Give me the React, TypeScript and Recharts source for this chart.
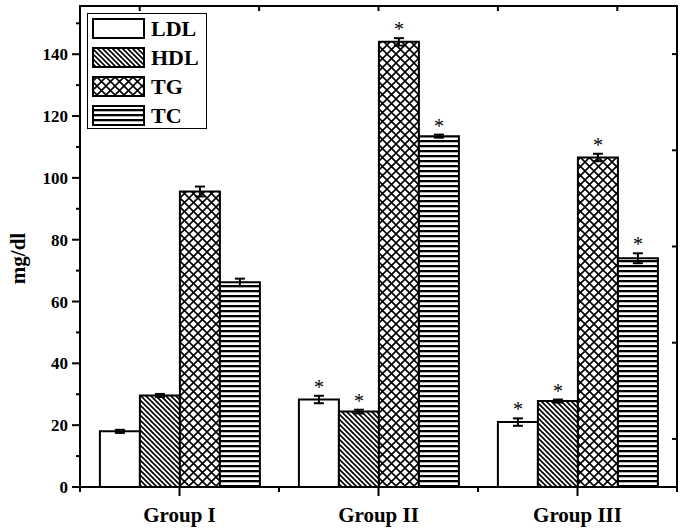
import React from "react";
import {
  BarChart,
  Bar,
  XAxis,
  YAxis,
  Legend,
  ErrorBar,
  LabelList,
} from "recharts";

const groups = ["Group I", "Group II", "Group III"];
const ldl = [18.0, 28.3, 21.0];
const ldlErr = [0.5, 1.2, 1.2];
const hdl = [29.6, 24.4, 27.8];
const hdlErr = [0.5, 0.6, 0.5];
const tg = [95.6, 144.0, 106.6];
const tgErr = [1.6, 1.2, 1.2];
const tc = [66.2, 113.5, 74.0];
const tcErr = [1.2, 0.5, 1.6];
const significant = [false, true, true];
const yTicks = [0, 10, 20, 30, 40, 50, 60, 70, 80, 90, 100, 110, 120, 130, 140, 150];
const yMax = 155.6;
const frameMax = 5;
const frameTicks = [0.5, 1.5, 2.5, 3.5, 4.5];

// layout
const CHART_W = 683;
const CHART_H = 531;
const RIGHT_W = 6;
const TOP_H = 6;

const font = "'Liberation Serif', 'Times New Roman', serif";

const data = groups.map((g, i) => ({
  group: g,
  ldl: ldl[i],
  ldlErr: ldlErr[i],
  hdl: hdl[i],
  hdlErr: hdlErr[i],
  tg: tg[i],
  tgErr: tgErr[i],
  tc: tc[i],
  tcErr: tcErr[i],
}));

const series = [
  { key: "ldl", name: "LDL", fill: "#fff", values: ldl, errs: ldlErr },
  { key: "hdl", name: "HDL", fill: "url(#pHdl)", values: hdl, errs: hdlErr },
  { key: "tg", name: "TG", fill: "url(#pTg)", values: tg, errs: tgErr },
  { key: "tc", name: "TC", fill: "url(#pTc)", values: tc, errs: tcErr },
];

const Patterns = ({ prefix = "" }: { prefix?: string }) => (
  <defs>
    <pattern id={prefix + "pHdl"} width="5" height="5" patternUnits="userSpaceOnUse">
      <rect width="5" height="5" fill="#fff" />
      <path d="M0,0 L5,5 M-1,4 L1,6 M4,-1 L6,1" stroke="#000" strokeWidth="1.7" />
    </pattern>
    <pattern id={prefix + "pTg"} width="9" height="9" patternUnits="userSpaceOnUse">
      <rect width="9" height="9" fill="#fff" />
      <path d="M0,0 L9,9 M9,0 L0,9" stroke="#000" strokeWidth="1.6" />
    </pattern>
    <pattern id={prefix + "pTc"} width="5" height="5" patternUnits="userSpaceOnUse">
      <rect width="5" height="5" fill="#fff" />
      <rect y="0" width="5" height="2.3" fill="#000" />
    </pattern>
  </defs>
);

const YTick = (props: any) => {
  const { x, y, payload } = props;
  const major = payload.value % 20 === 0;
  return (
    <g>
      <line x1={x - (major ? 8 : 4)} y1={y} x2={x} y2={y} stroke="#000" strokeWidth={2} />
      {major && (
        <text
          x={x - 12}
          y={y}
          dy="0.36em"
          textAnchor="end"
          fontFamily={font}
          fontWeight="bold"
          fontSize={17}
          fill="#000"
        >
          {payload.value}
        </text>
      )}
    </g>
  );
};

const XTick = (props: any) => {
  const { x, y, payload } = props;
  const half = payload.offset || 0;
  return (
    <g>
      <line x1={x} y1={y} x2={x} y2={y + 9} stroke="#000" strokeWidth={2} />
      <line x1={x - half} y1={y} x2={x - half} y2={y + 5} stroke="#000" strokeWidth={2} />
      <line x1={x + half} y1={y} x2={x + half} y2={y + 5} stroke="#000" strokeWidth={2} />
      <text
        x={x}
        y={y + 35}
        textAnchor="middle"
        fontFamily={font}
        fontWeight="bold"
        fontSize={21}
        fill="#000"
      >
        {payload.value}
      </text>
    </g>
  );
};

// inward ticks on the top / right frame
const FrameTickTop = (props: any) => {
  const { x, y } = props;
  return <line x1={x} y1={y} x2={x} y2={y + 5} stroke="#000" strokeWidth={2} />;
};
const FrameTickRight = (props: any) => {
  const { x, y } = props;
  return <line x1={x - 5} y1={y} x2={x} y2={y} stroke="#000" strokeWidth={2} />;
};

// y title plus the top / right frame lines, from the y axis box
const YAxisLabel = (p: any) => {
  const vb = p.viewBox || {};
  const top = vb.y || 0;
  const bottom = top + (vb.height || 0);
  const left = (vb.x || 0) + (vb.width || 0);
  const right = CHART_W - RIGHT_W;
  const cy = (top + bottom) / 2 + 12;
  return (
    <g>
      <line x1={left - 1} y1={top} x2={right + 1} y2={top} stroke="#000" strokeWidth={2} />
      <line x1={right} y1={top} x2={right} y2={bottom + 1} stroke="#000" strokeWidth={2} />
      <text
        x={18}
        y={cy}
        transform={`rotate(-90, 18, ${cy})`}
        textAnchor="middle"
        dy="0.35em"
        fontFamily={font}
        fontWeight="bold"
        fontSize={21}
        fill="#000"
      >
        mg/dl
      </text>
    </g>
  );
};

const makeStar = (values: number[], errs: number[]) => (props: any) => {
  const { x, y, width, height, index } = props;
  if (!significant[index]) return null;
  const pxPerUnit = height / values[index];
  const top = y - errs[index] * pxPerUnit;
  return (
    <text
      x={x + width / 2}
      y={top - 2}
      textAnchor="middle"
      fontFamily={font}
      fontSize={20}
      fill="#000"
    >
      *
    </text>
  );
};

const LegendBox = () => (
  <div
    style={{
      border: "1.5px solid #000",
      width: 120,
      height: 116,
      boxSizing: "border-box",
      background: "#fff",
    }}
  >
    <svg width={119} height={114}>
      <Patterns prefix="lg" />
      {series.map((s, i) => (
        <g key={s.key}>
          <rect
            x={5}
            y={5 + i * 29}
            width={51}
            height={19}
            fill={s.fill.replace("#p", "#lgp")}
            stroke="#000"
            strokeWidth={2}
          />
          <text
            x={63}
            y={14.5 + i * 29}
            dy="0.35em"
            fontFamily={font}
            fontWeight="bold"
            fontSize={22}
            fill="#000"
          >
            {s.name}
          </text>
        </g>
      ))}
    </svg>
  </div>
);

export default function App() {
  return (
    <div style={{ position: "absolute", left: 0, top: 0, background: "#fff" }}>
      <BarChart
        width={CHART_W}
        height={CHART_H}
        data={data}
        margin={{ top: 0, right: 0, bottom: 0, left: 0 }}
        barGap={0}
        barCategoryGap="10%"
      >
        <Patterns />
        <XAxis
          dataKey="group"
          height={44}
          axisLine={{ stroke: "#000", strokeWidth: 2 }}
          tickLine={false}
          tickSize={0}
          tickMargin={0}
          tick={<XTick />}
        />
        <XAxis
          xAxisId="top"
          orientation="top"
          type="number"
          dataKey="ldl"
          domain={[0, frameMax]}
          allowDataOverflow
          ticks={frameTicks}
          height={TOP_H}
          axisLine={false}
          tickLine={false}
          tickSize={0}
          tickMargin={0}
          tick={<FrameTickTop />}
        />
        <YAxis
          width={80}
          domain={[0, yMax]}
          allowDataOverflow
          ticks={yTicks}
          interval={0}
          axisLine={{ stroke: "#000", strokeWidth: 2 }}
          tickLine={false}
          tickSize={0}
          tickMargin={0}
          tick={<YTick />}
          label={YAxisLabel}
        />
        <YAxis
          yAxisId="right"
          orientation="right"
          type="number"
          domain={[0, frameMax]}
          allowDataOverflow
          ticks={frameTicks}
          width={RIGHT_W}
          axisLine={false}
          tickLine={false}
          tickSize={0}
          tickMargin={0}
          tick={<FrameTickRight />}
        />
        <Legend
          layout="vertical"
          align="center"
          verticalAlign="middle"
          wrapperStyle={{ left: 87, top: 13, width: 120, height: 116 }}
          content={() => <LegendBox />}
        />
        {series.map((s) => (
          <Bar
            key={s.key}
            dataKey={s.key}
            name={s.name}
            fill={s.fill}
            stroke="#000"
            strokeWidth={2}
            isAnimationActive={false}
          >
            <ErrorBar dataKey={s.key + "Err"} width={5} stroke="#000" strokeWidth={2} />
            <LabelList dataKey={s.key} content={makeStar(s.values, s.errs)} />
          </Bar>
        ))}
      </BarChart>
    </div>
  );
}
